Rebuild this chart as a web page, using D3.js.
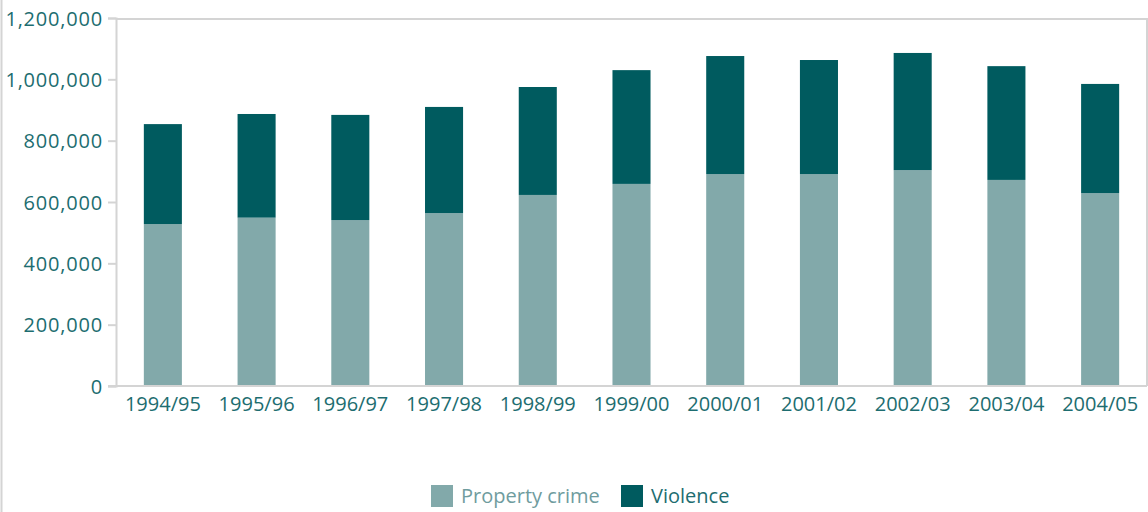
<!DOCTYPE html>
<html>
<head>
<meta charset="utf-8">
<script src="https://cdn.jsdelivr.net/npm/d3@7"></script>
<style>
  body { margin: 0; background: #fff; }
  .lbl { font-family: "Open Sans", sans-serif; font-size: 20px; fill: #1d6d70; }
  .ylbl { letter-spacing: 0.8px; }
</style>
</head>
<body>
<div id="viz"></div>
<script>
// data
var years = ["1994/95", "1995/96", "1996/97", "1997/98", "1998/99", "1999/00",
             "2000/01", "2001/02", "2002/03", "2003/04", "2004/05"];
var property = [528000, 549000, 541000, 564000, 623000, 659000, 691000, 691000, 704000, 672000, 629000];
var violence = [326000, 338000, 343000, 346000, 352000, 371000, 385000, 372000, 382000, 371000, 356000];
var yTicks = [0, 200000, 400000, 600000, 800000, 1000000, 1200000];
var seriesNames = ["Property crime", "Violence"];
var colors = ["#82a9aa", "#005b5f"];

var W = 1148, H = 512;
var m = {left: 116, right: 1147, top: 18, bottom: 386};

var svg = d3.select("#viz").append("svg")
  .attr("width", W).attr("height", H);

// outer left frame line
svg.append("line")
  .attr("x1", 1.5).attr("x2", 1.5).attr("y1", 0).attr("y2", H)
  .attr("stroke", "#d4d4d4").attr("stroke-width", 2);

var x = d3.scaleBand().domain(years).range([m.left, m.right]).paddingInner(0.594).paddingOuter(0.297);
var y = d3.scaleLinear().domain([0, 1200000]).range([m.bottom, m.top]);

var rows = years.map(function(yr, i) { return {year: yr, p: property[i], v: violence[i]}; });
var stacked = d3.stack().keys(["p", "v"])(rows);

// plot frame (top and right)
svg.append("path")
  .attr("d", "M" + m.left + "," + (m.top + 1) + "H" + m.right + "V" + m.bottom)
  .attr("fill", "none").attr("stroke", "#d4d4d4").attr("stroke-width", 2);

svg.selectAll("g.series")
  .data(stacked)
  .enter().append("g")
  .attr("fill", function(d, i) { return colors[i]; })
  .selectAll("rect")
  .data(function(d) { return d; })
  .enter().append("rect")
  .attr("x", function(d) { return x(d.data.year); })
  .attr("width", x.bandwidth())
  .attr("y", function(d) { return y(d[1]); })
  .attr("height", function(d) { return y(d[0]) - y(d[1]); });

// y axis
var yAxis = svg.append("g")
  .attr("transform", "translate(" + m.left + ",0)")
  .call(d3.axisLeft(y).tickValues(yTicks).tickSize(8).tickPadding(5)
        .tickFormat(d3.format(",")));
yAxis.select(".domain").attr("stroke", "#d4d4d4").attr("stroke-width", 2);
yAxis.selectAll(".tick line").attr("stroke", "#d4d4d4").attr("stroke-width", 2);
yAxis.selectAll("text").attr("class", "lbl ylbl").attr("font-size", null).attr("font-family", null)
  .attr("fill", null).attr("dy", "0.35em");

// x axis
var xAxis = svg.append("g")
  .attr("transform", "translate(0," + m.bottom + ")")
  .call(d3.axisBottom(x).tickSize(0).tickPadding(11));
xAxis.select(".domain").attr("stroke", "#d4d4d4").attr("stroke-width", 2)
  .attr("d", "M" + (m.left - 8) + ",0H" + m.right);
xAxis.selectAll("text").attr("class", "lbl").attr("font-size", null).attr("font-family", null)
  .attr("fill", null);

// legend
var legX = [431, 621];
var leg = svg.selectAll("g.leg")
  .data(seriesNames)
  .enter().append("g")
  .attr("transform", function(d, i) { return "translate(" + legX[i] + ",485)"; });
leg.append("rect").attr("width", 22).attr("height", 22)
  .attr("fill", function(d, i) { return colors[i]; });
leg.append("text").attr("class", "lbl")
  .attr("x", 30).attr("y", 18)
  .style("fill", function(d, i) { return i == 0 ? "#6f9c9e" : "#1d6d70"; })
  .text(function(d) { return d; });
</script>
</body>
</html>
